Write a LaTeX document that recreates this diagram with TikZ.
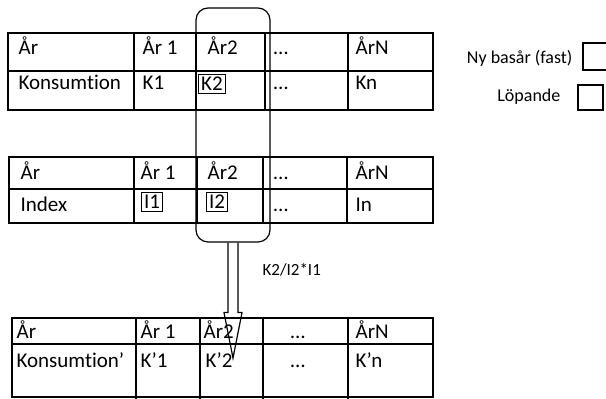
\documentclass[tikz,border=0pt]{standalone}
\usepackage{fontspec}
\setmainfont{Carlito}[Ligatures=NoCommon]
\usetikzlibrary{calc}
\begin{document}
\begin{tikzpicture}[x=0.5pt,y=-0.5pt,line width=0.6pt,
    cell/.style={anchor=base west,inner sep=0pt,font=\fontsize{10.5}{12}\selectfont},
    valbox/.style={draw,inner sep=1.2pt,font=\fontsize{10.5}{12}\selectfont},
    legend/.style={anchor=east,inner sep=0pt,font=\fontsize{9}{11}\selectfont}]
\useasboundingbox (0,0) rectangle (606,399);

% table 1: Konsumtion
\draw (8,33) rectangle (433,110);
\draw (8,71) -- (433,71);
\foreach \x in {134,196,265,348} \draw (\x,33) -- (\x,110);
\node[cell] (k0) at (18,55) {År};
\node[cell] (k1) at (142,55) {År 1};
\node[cell] (k2) at (207,55) {År2};
\node[cell] (k3) at (273,55) {…};
\node[cell] (k4) at (355,55) {ÅrN};
\node[cell] (kr0) at (18,90) {Konsumtion};
\node[cell] (kr1) at (142,90) {K1};
\node[valbox] (kr2) at (212,84) {K2};
\node[cell] (kr3) at (273,90) {…};
\node[cell] (kr4) at (355,90) {Kn};

% table 2: Index
\draw (9,157) rectangle (433,223);
\draw (9,189) -- (433,189);
\foreach \x in {134,197,263,347} \draw (\x,157) -- (\x,223);
\node[cell] (i0) at (20,180) {År};
\node[cell] (i1) at (140,180) {År 1};
\node[cell] (i2) at (207,180) {År2};
\node[cell] (i3) at (273,180) {…};
\node[cell] (i4) at (355,180) {ÅrN};
\node[cell] (ir0) at (20,212) {Index};
\node[valbox] (ir1) at (152,202) {I1};
\node[valbox] (ir2) at (217,202) {I2};
\node[cell] (ir3) at (273,212) {…};
\node[cell] (ir4) at (355,212) {In};

% table 3: Konsumtion'
\draw (12,318) rectangle (433,397);
\draw (12,344) -- (433,344);
\foreach \x in {136,200,263,348} \draw (\x,318) -- (\x,399);
\node[cell] (n0) at (16,339) {År};
\node[cell] (n1) at (140,339) {År 1};
\node[cell] (n2) at (203,339) {År2};
\node[cell] (n3) at (290,339) {…};
\node[cell] (n4) at (355,339) {ÅrN};
\node[cell] (nr0) at (16,368) {Konsumtion’};
\node[cell] (nr1) at (140,368) {K’1};
\node[cell] (nr2) at (205,368) {K’2};
\node[cell] (nr3) at (290,368) {…};
\node[cell] (nr4) at (355,368) {K’n};

% selected column and arrow
\node[draw,rounded corners=6pt,minimum width=37pt,minimum height=117pt] (sel) at (233,125) {};
\coordinate (tip) at (233,358);
\draw ($(sel.south)+(-5,0)$) -- ($(sel.south)+(-5,70)$) -- ($(sel.south)+(-9,70)$)
    -- (tip) -- ($(sel.south)+(9,70)$) -- ($(sel.south)+(5,70)$) -- ($(sel.south)+(5,0)$);
\node[anchor=west,inner sep=0pt,font=\fontsize{8.5}{10}\selectfont] (rule) at (262,270) {K2/I2*I1};

% legend
\node[legend] (fast) at (573,58) {Ny basår (fast)};
\draw (583,43) rectangle (612,70);
\node[legend] (lop) at (561,97) {Löpande};
\draw (578,85) rectangle (603,110);
\end{tikzpicture}
\end{document}
